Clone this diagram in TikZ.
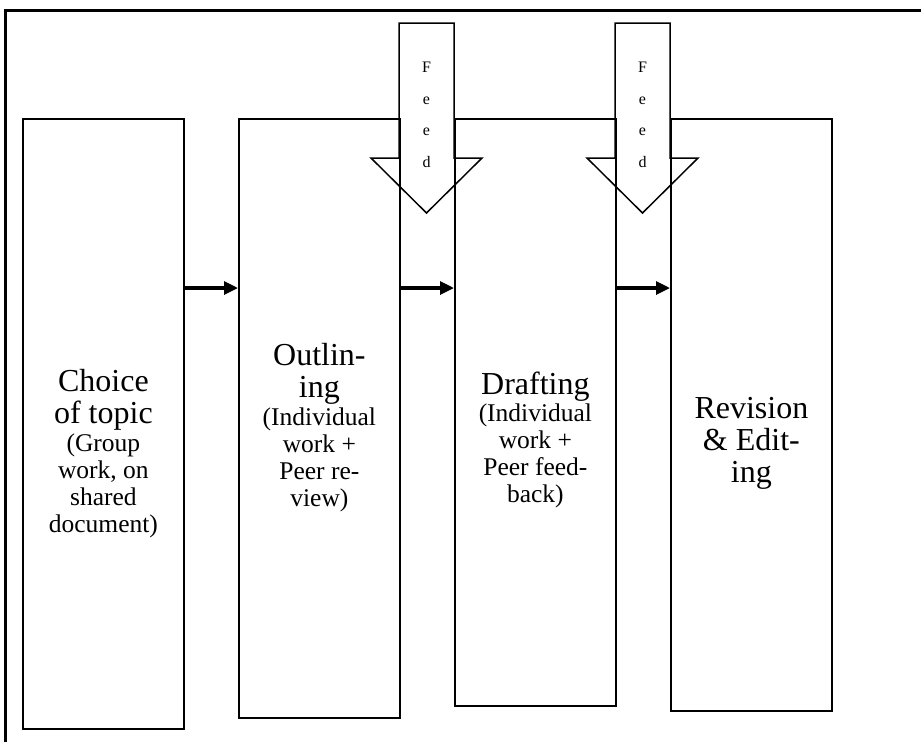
\documentclass[tikz,border=0pt]{standalone}
\usepackage{fontspec}
\setmainfont{Liberation Serif}
\usetikzlibrary{arrows.meta, positioning}

\newcommand{\bigtext}{\fontsize{32}{32}\selectfont\spaceskip=0.25em\relax}
\newcommand{\smalltext}{\fontsize{25.5}{27}\selectfont\spaceskip=0.25em\relax}

\begin{document}
\begin{tikzpicture}[x=1pt, y=-1pt,
    stage/.style={draw, line width=1.8pt, anchor=north west, minimum width=161pt,
        inner sep=0pt},
    stagetext/.style={align=center, text width=155pt, inner sep=0pt},
    flow/.style={-{Triangle[length=14pt, width=13pt]}, line width=3.2pt},
    feedback/.style={draw, line width=1.5pt, line join=miter},
    feedtext/.style={anchor=north, align=center, inner sep=0pt,
        font=\fontsize{16}{31.5}\selectfont}]
    \useasboundingbox (0,0) rectangle (921,742);
    % page frame
    \draw [line width=3pt] (5,742) -- (5,10) -- (921,10);

    % feedback arrows
    \draw [feedback] (399,23) -- (454,23) -- (454,158) -- (482,158) -- (426.5,213)
        -- (371,158) -- (399,158) -- cycle;
    \draw [feedback] (615,23) -- (670,23) -- (670,158) -- (698,158) -- (642.5,213)
        -- (587,158) -- (615,158) -- cycle;
    \node (fb1) at (426.5,62) [feedtext] {F\\e\\e\\d};
    \node (fb2) at (642.5,62) [feedtext] {F\\e\\e\\d};

    % stages
    \node (choice) at (22,118) [stage, minimum height=610pt] {};
    \node (outline) at (238,118) [stage, minimum height=599pt] {};
    \node (draft) at (454,118) [stage, minimum height=587pt] {};
    \node (revise) at (670,118) [stage, minimum height=592pt] {};

    \node (choicetext) [stagetext, below=251pt of choice.north]
        {\bigtext Choice\\of topic\par\vspace{1.5pt}
         \smalltext (Group\\work, on\\shared\\document)\par};
    \node (outlinetext) [stagetext, below=225pt of outline.north]
        {\bigtext Outlin-\\ing\par\vspace{1.5pt}
         \smalltext (Individual\\work +\\Peer re-\\view)\par};
    \node (drafttext) [stagetext, below=254pt of draft.north]
        {\bigtext Drafting\par\vspace{0pt}
         \smalltext (Individual\\work +\\Peer feed-\\back)\par};
    \node (revisetext) [stagetext, below=279pt of revise.north]
        {\bigtext Revision\\\& Edit-\\ing\par};

    % arrows between stages
    \coordinate (row) at (0,288);
    \draw [flow] (choice.east |- row) -- (outline.west |- row);
    \draw [flow] (outline.east |- row) -- (draft.west |- row);
    \draw [flow] (draft.east |- row) -- (revise.west |- row);
\end{tikzpicture}
\end{document}
